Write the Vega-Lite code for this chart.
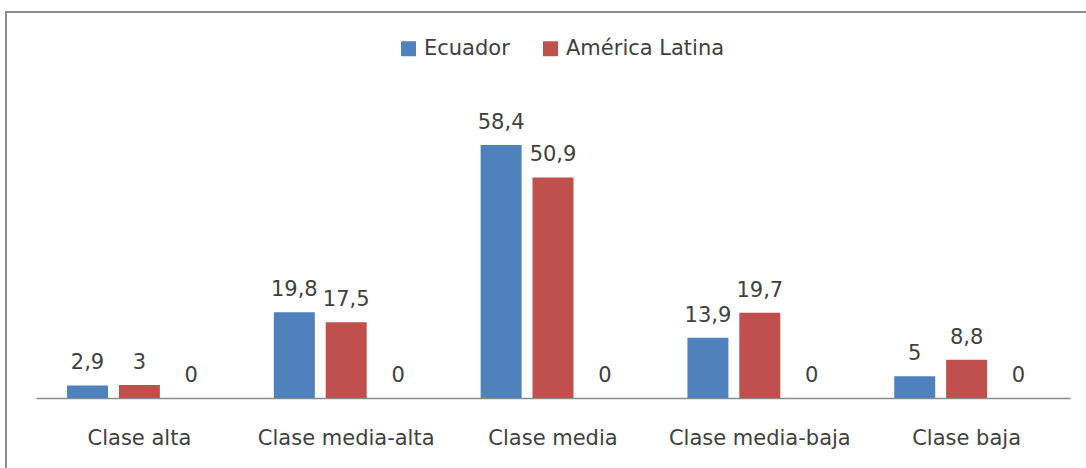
{
  "$schema": "https://vega.github.io/schema/vega-lite/v6.json",
  "width": 1086,
  "height": 466,
  "autosize": {"type": "none"},
  "padding": {"left": 6, "top": 12, "right": 0, "bottom": 0},
  "background": "#ffffff",
  "config": {
    "view": {"stroke": "#8c8c8c", "strokeWidth": 2},
    "font": "DejaVu Sans",
    "locale": {"number": {"decimal": ",", "thousands": ".", "grouping": [3], "currency": ["", " €"]}}
  },
  "data": {
    "values": [
      {"clase": "Clase alta", "serie": "Ecuador", "valor": 2.9},
      {"clase": "Clase alta", "serie": "América Latina", "valor": 3},
      {"clase": "Clase alta", "serie": "Serie 3", "valor": 0},
      {"clase": "Clase media-alta", "serie": "Ecuador", "valor": 19.8},
      {"clase": "Clase media-alta", "serie": "América Latina", "valor": 17.5},
      {"clase": "Clase media-alta", "serie": "Serie 3", "valor": 0},
      {"clase": "Clase media", "serie": "Ecuador", "valor": 58.4},
      {"clase": "Clase media", "serie": "América Latina", "valor": 50.9},
      {"clase": "Clase media", "serie": "Serie 3", "valor": 0},
      {"clase": "Clase media-baja", "serie": "Ecuador", "valor": 13.9},
      {"clase": "Clase media-baja", "serie": "América Latina", "valor": 19.7},
      {"clase": "Clase media-baja", "serie": "Serie 3", "valor": 0},
      {"clase": "Clase baja", "serie": "Ecuador", "valor": 5},
      {"clase": "Clase baja", "serie": "América Latina", "valor": 8.8},
      {"clase": "Clase baja", "serie": "Serie 3", "valor": 0}
    ]
  },
  "encoding": {
    "x": {
      "field": "clase",
      "type": "nominal",
      "sort": ["Clase alta", "Clase media-alta", "Clase media", "Clase media-baja", "Clase baja"],
      "scale": {"range": [30, 1064], "paddingInner": 0.25, "paddingOuter": 0.125},
      "axis": {
        "title": null,
        "ticks": false,
        "labelAngle": 0,
        "labelLimit": 0,
        "domainColor": "#8c8c8c",
        "domainWidth": 1.5,
        "labelFontSize": 21,
        "labelColor": "#404040",
        "labelFont": "DejaVu Sans",
        "labelPadding": 29,
        "offset": -80
      }
    },
    "xOffset": {
      "field": "serie",
      "type": "nominal",
      "scale": {"domain": ["Ecuador", "América Latina", "Serie 3"], "paddingInner": 0.21, "paddingOuter": 0.1}
    },
    "y": {
      "field": "valor",
      "type": "quantitative",
      "stack": null,
      "scale": {"domain": [-18.47, 89.1], "nice": false},
      "axis": null
    }
  },
  "layer": [
    {
      "transform": [{"filter": "datum.serie !== 'Serie 3'"}],
      "mark": {"type": "bar"},
      "encoding": {
        "color": {
          "field": "serie",
          "type": "nominal",
          "scale": {"domain": ["Ecuador", "América Latina"], "range": ["#4F81BD", "#C0504D"]},
          "legend": {
            "title": null,
            "orient": "none",
            "legendX": 392,
            "legendY": 26,
            "direction": "horizontal",
            "symbolType": "square",
            "symbolSize": 225,
            "symbolStrokeWidth": 0,
            "labelFontSize": 21,
            "labelFont": "DejaVu Sans",
            "labelColor": "#404040",
            "labelOffset": 5,
            "columnPadding": 30,
            "padding": 0
          }
        }
      }
    },
    {
      "mark": {"type": "text", "baseline": "middle", "dy": -22, "fontSize": 21, "color": "#404040", "font": "DejaVu Sans"},
      "encoding": {
        "text": {"field": "valor", "type": "quantitative", "format": ".1~f"}
      }
    }
  ]
}
